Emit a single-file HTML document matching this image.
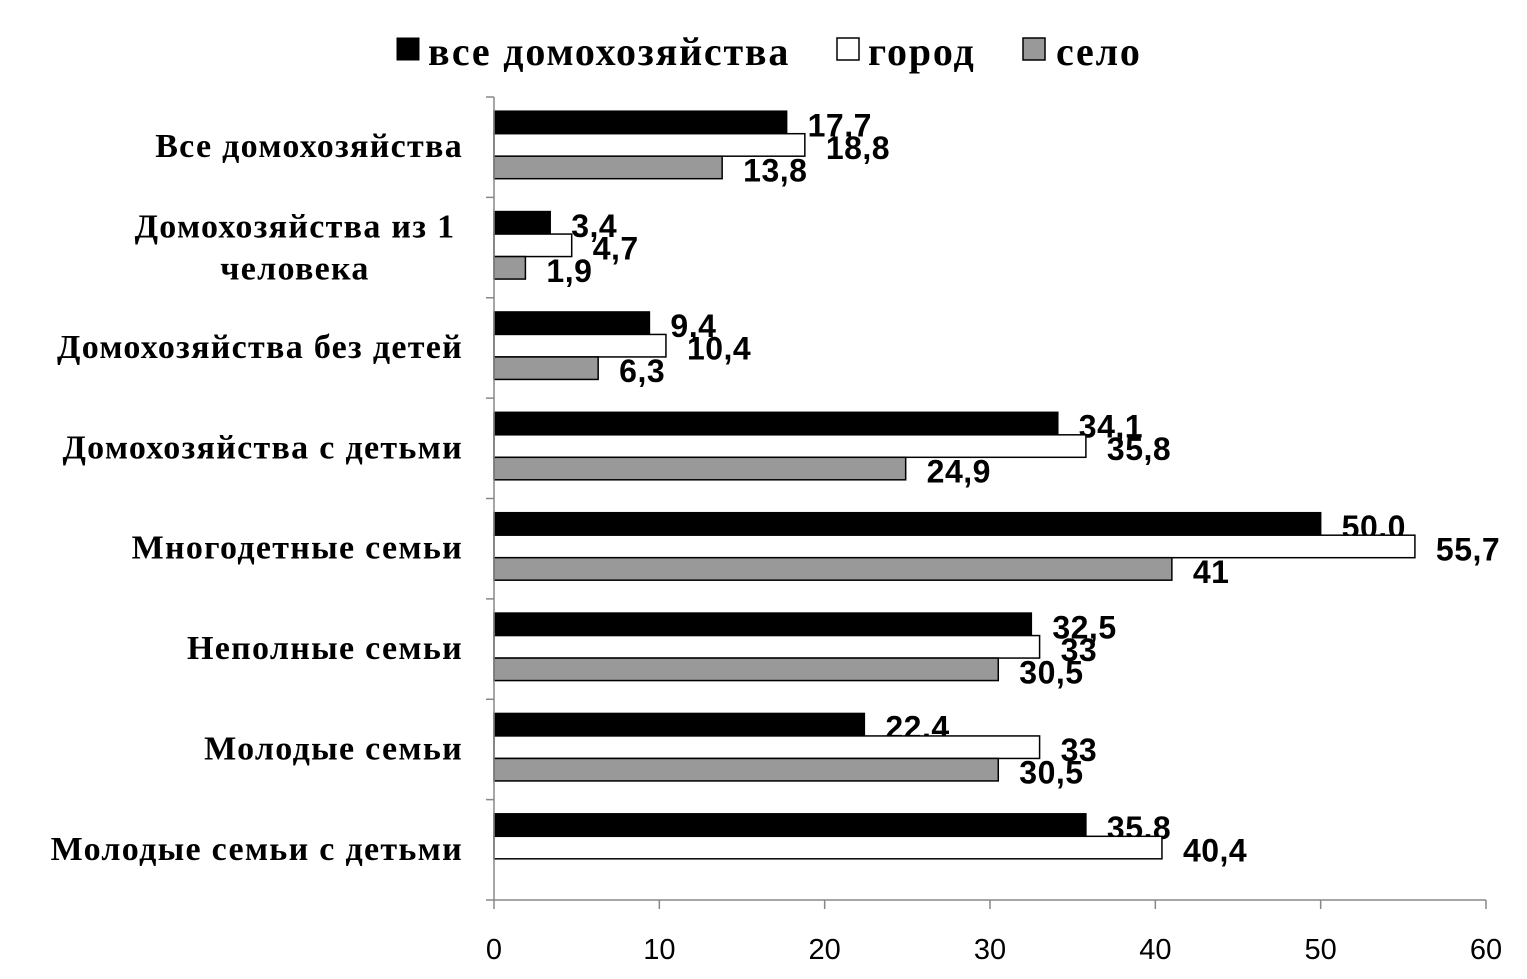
<!DOCTYPE html>
<html><head><meta charset="utf-8"><style>
body{margin:0;background:#fff;}
svg{display:block;}
</style></head><body>
<svg id="chart" width="1527" height="979" xmlns="http://www.w3.org/2000/svg">
<g id="legend">
  <rect x="397" y="38" width="22" height="22" fill="#000" stroke="#000"/>
  <text x="428" y="65" font-family="Liberation Serif, serif" font-weight="bold" font-size="40" letter-spacing="1.8">все домохозяйства</text>
  <rect x="837" y="38" width="22" height="22" fill="#fff" stroke="#000" stroke-width="1.5"/>
  <text x="868" y="65" font-family="Liberation Serif, serif" font-weight="bold" font-size="40" letter-spacing="1.8">город</text>
  <rect x="1023" y="38" width="22" height="22" fill="#999" stroke="#000" stroke-width="1.5"/>
  <text x="1056" y="65" font-family="Liberation Serif, serif" font-weight="bold" font-size="40" letter-spacing="1.8">село</text>
</g>
<g id="plot"></g>
</svg>
<script>
const categories=[["Все домохозяйства"],["Домохозяйства из  1","человека"],["Домохозяйства без детей"],["Домохозяйства с детьми"],["Многодетные семьи"],["Неполные семьи"],["Молодые семьи "],["Молодые семьи с детьми"]];
const allValues=[17.7,3.4,9.4,34.1,50.0,32.5,22.4,35.8];
const allLabels=["17,7","3,4","9,4","34,1","50,0","32,5","22,4","35,8"];
const cityValues=[18.8,4.7,10.4,35.8,55.7,33,33,40.4];
const cityLabels=["18,8","4,7","10,4","35,8","55,7","33","33","40,4"];
const villageValues=[13.8,1.9,6.3,24.9,41,30.5,30.5,null];
const villageLabels=["13,8","1,9","6,3","24,9","41","30,5","30,5",""];
const xTicks=[0,10,20,30,40,50,60];

const NS="http://www.w3.org/2000/svg";
const g=document.getElementById('plot');
const x0=494,x1=1486,yTop=97,yBot=900,xMax=60;
const xs=v=>x0+(v/xMax)*(x1-x0);
const band=(yBot-yTop)/categories.length;
function mk(tag,attrs){const e=document.createElementNS(NS,tag);for(const k in attrs)e.setAttribute(k,attrs[k]);g.appendChild(e);return e;}

const series=[{v:allValues,l:allLabels,fill:"#000",n:"all"},{v:cityValues,l:cityLabels,fill:"#fff",n:"city"},{v:villageValues,l:villageLabels,fill:"#999",n:"village"}];
const bh=22.5;
categories.forEach((c,i)=>{
  const cy=yTop+band*(i+0.5);
  series.forEach((s,j)=>{
    const v=s.v[i];
    if(v===null||v===undefined)return;
    const y=cy-36+j*bh;
    const r=mk('rect',{x:x0,y:y,width:xs(v)-x0,height:bh,fill:s.fill,stroke:"#000","stroke-width":1.5});
    
    
    const t=mk('text',{x:xs(v)+21,y:y+bh/2+14,"font-family":"Liberation Sans, sans-serif","font-weight":"bold","font-size":32,"letter-spacing":0.5});
    t.textContent=s.l[i];
    
    
  });
  const lines=c;
  let t;
  if(lines.length===1){
    t=mk('text',{x:463,y:cy+10,"text-anchor":"end","font-family":"Liberation Serif, serif","font-weight":"bold","font-size":34,"letter-spacing":1.3});
    t.textContent=lines[0];
  } else {
    t=mk('text',{x:295,y:cy-10,"text-anchor":"middle","font-family":"Liberation Serif, serif","font-weight":"bold","font-size":34,"letter-spacing":1.3});
    lines.forEach((ln,k)=>{const ts=document.createElementNS(NS,'tspan');ts.setAttribute('x',295);ts.setAttribute('dy',k===0?0:42);ts.textContent=ln;t.appendChild(ts);});
  }
  
  
});
for(let i=0;i<=categories.length;i++){
  const y=yTop+band*i;
  const l=mk('line',{x1:486,x2:x0,y1:y,y2:y,stroke:"#888","stroke-width":1.5});
  
  
}
const ya=mk('line',{x1:x0,x2:x0,y1:yTop,y2:yBot,stroke:"#888","stroke-width":1.5});


const xa=mk('line',{x1:x0,x2:x1,y1:yBot,y2:yBot,stroke:"#888","stroke-width":1.5});


xTicks.forEach(v=>{
  const l=mk('line',{x1:xs(v),x2:xs(v),y1:yBot,y2:yBot+9,stroke:"#888","stroke-width":1.5});
  
  
  const t=mk('text',{x:xs(v),y:959,"text-anchor":"middle","font-family":"Liberation Sans, sans-serif","font-size":29});
  t.textContent=v;
  
  
});
</script>
</body></html>
